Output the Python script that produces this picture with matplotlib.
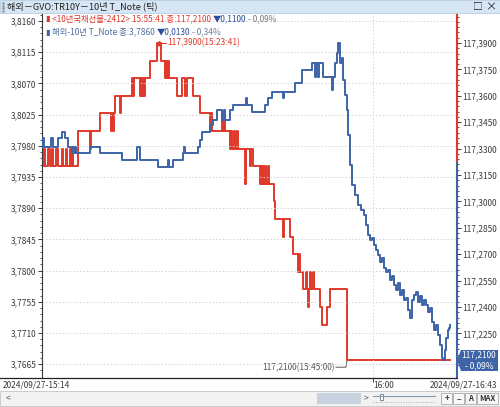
import numpy as np
import matplotlib.pyplot as plt
from matplotlib.patches import Rectangle, Polygon
from matplotlib.lines import Line2D

plt.rcParams['font.family'] = ['Noto Sans CJK KR', 'DejaVu Sans']

# tick index (x) and values
# red: 10년 국채선물 (right axis), drawn as steps
red_idx = [0, 2, 3, 6, 8, 10, 11, 14, 16, 20, 21, 24, 25, 28, 29, 30, 31, 36, 48, 49,
           58, 69, 70, 71, 72, 73, 78, 79, 90, 91, 92, 98, 99, 100, 101, 102, 103, 108,
           115, 119, 123, 124, 125, 126, 127, 135, 140, 143, 145, 151, 158, 168, 169,
           170, 180, 181, 182, 183, 188, 189, 190, 192, 193, 195, 196, 198, 203, 204,
           208, 209, 211, 218, 219, 220, 221, 222, 223, 224, 226, 227, 230, 232, 233,
           241, 242, 248, 251, 256, 257, 258, 261, 264, 265, 266, 267, 268, 269, 271,
           272, 278, 280, 285, 288, 305, 408]
red_val = [117.32, 117.33, 117.32, 117.33, 117.32, 117.33, 117.32, 117.33, 117.32,
           117.33, 117.32, 117.33, 117.32, 117.33, 117.32, 117.33, 117.32, 117.34,
           117.33, 117.34, 117.35, 117.34, 117.35, 117.34, 117.35, 117.36, 117.35,
           117.36, 117.37, 117.36, 117.37, 117.36, 117.37, 117.36, 117.37, 117.36,
           117.37, 117.38, 117.39, 117.38, 117.37, 117.38, 117.37, 117.38, 117.37,
           117.36, 117.37, 117.36, 117.37, 117.36, 117.35, 117.34, 117.35, 117.34,
           117.35, 117.34, 117.35, 117.34, 117.33, 117.34, 117.33, 117.34, 117.33,
           117.34, 117.33, 117.33, 117.31, 117.33, 117.32, 117.33, 117.32, 117.31,
           117.32, 117.31, 117.32, 117.31, 117.32, 117.31, 117.32, 117.31, 117.31,
           117.30, 117.29, 117.28, 117.29, 117.28, 117.27, 117.26, 117.27, 117.26,
           117.25, 117.26, 117.25, 117.24, 117.25, 117.26, 117.25, 117.26, 117.25,
           117.24, 117.23, 117.24, 117.25, 117.21, 117.21]

# blue: 해외 10년 T_Note yield (left axis)
blue_idx = [0, 1, 2, 9, 11, 16, 20, 23, 26, 30, 31, 32, 33, 34, 48, 58, 80, 95, 98,
            116, 126, 127, 131, 141, 142, 143, 156, 158, 160, 168, 171, 175, 180, 182,
            183, 188, 191, 204, 205, 210, 223, 226, 230, 241, 242, 253, 260, 270, 273,
            274, 276, 277, 281, 290, 291, 293, 295, 296, 298, 300, 301, 303, 305, 306,
            308, 310, 313, 316, 319, 322, 324, 326, 328, 330, 332, 334, 336, 338, 340,
            342, 344, 346, 348, 350, 352, 354, 356, 358, 360, 362, 364, 366, 368, 370,
            372, 374, 376, 378, 380, 382, 384, 386, 388, 390, 392, 394, 396, 398, 400,
            401, 403, 404, 406, 407, 408]
blue_val = [3.7978, 3.7991, 3.7978, 3.7991, 3.7978, 3.7991, 3.8000, 3.7991, 3.7978,
            3.7970, 3.7978, 3.7970, 3.7978, 3.7970, 3.7978, 3.7970, 3.7960, 3.7978,
            3.7960, 3.7949, 3.7960, 3.7949, 3.7960, 3.7970, 3.7978, 3.7970, 3.7978,
            3.7988, 3.8000, 3.8010, 3.8017, 3.8032, 3.8017, 3.8032, 3.8017, 3.8032,
            3.8039, 3.8049, 3.8039, 3.8029, 3.8039, 3.8049, 3.8058, 3.8049, 3.8058,
            3.8071, 3.8089, 3.8099, 3.8079, 3.8099, 3.8079, 3.8099, 3.8079, 3.8060,
            3.8079, 3.8099, 3.8114, 3.8128, 3.8099, 3.8107, 3.8075, 3.8053, 3.8032,
            3.7996, 3.7952, 3.7923, 3.7909, 3.7895, 3.7887, 3.7880, 3.7866, 3.7851,
            3.7844, 3.7847, 3.7837, 3.7830, 3.7822, 3.7812, 3.7818, 3.7804, 3.7798,
            3.7801, 3.7786, 3.7792, 3.7779, 3.7772, 3.7782, 3.7765, 3.7772, 3.7758,
            3.7760, 3.7743, 3.7732, 3.7758, 3.7765, 3.7769, 3.7755, 3.7763, 3.7750,
            3.7758, 3.7750, 3.7740, 3.7746, 3.7726, 3.7714, 3.7722, 3.7707, 3.7693,
            3.7674, 3.7671, 3.7685, 3.7703, 3.7714, 3.7717, 3.7722]

left_ticks = [3.7665, 3.7710, 3.7755, 3.7800, 3.7845, 3.7890, 3.7935, 3.7980,
              3.8025, 3.8070, 3.8115, 3.8160]
right_ticks = [117.2250, 117.2400, 117.2550, 117.2700, 117.2850, 117.3000,
               117.3150, 117.3300, 117.3450, 117.3600, 117.3750, 117.3900]

RED = '#e0392c'
BLUE = '#3d64a8'
TXT = '#3a3a3a'
W, H = 500, 407


def fx(px):
    return px / W


def fy(py):
    return 1 - py / H


def kfmt(v):
    return f"{v:.4f}".replace('.', ',')


fig = plt.figure(figsize=(5, 4.07), dpi=100)
fig.patch.set_facecolor('white')
renderer = fig.canvas.get_renderer()


def text_row(x0, y0, pieces, size):
    # place coloured pieces one after another on a line
    x = x0
    for s, c in pieces:
        t = fig.text(fx(x), fy(y0), s, color=c, fontsize=size, va='center')
        x += t.get_window_extent(renderer).width + 2


ax = fig.add_axes([fx(42), fy(378), fx(457) - fx(42), fy(13) - fy(378)])
ax2 = ax.twinx()

ax.set_xlim(0, 415)
ax.set_ylim(3.76451, 3.81715)
ax2.set_ylim(117.19966, 117.40705)

ax.plot(blue_idx, blue_val, drawstyle='steps-post', color=BLUE, lw=1.4, zorder=3)
ax2.plot(red_idx, red_val, drawstyle='steps-post', color=RED, lw=1.4, zorder=3)
ax.set_zorder(ax2.get_zorder() + 1)
ax.patch.set_visible(False)

# grid
for t in left_ticks:
    ax.axhline(t, color='#d4d4d4', lw=0.7, ls=(0, (1.5, 2)), zorder=0)
ax.axvline(331, color='#d4d4d4', lw=0.7, ls=(0, (1.5, 2)), zorder=0)

# left axis
ax.set_yticks(left_ticks)
ax.set_yticklabels([kfmt(t) for t in left_ticks])
ax.set_yticks([3.7665 + 0.0009 * i for i in range(-1, 57) if 3.7646 < 3.7665 + 0.0009 * i < 3.8171], minor=True)
ax.tick_params(axis='y', which='major', length=3, width=0.7, color=TXT, labelsize=6, labelcolor=TXT, pad=1)
ax.tick_params(axis='y', which='minor', length=1.5, width=0.6, color=TXT)
ax.set_xticks([331])
ax.set_xticklabels([])
ax.tick_params(axis='x', length=3, width=0.7, color=TXT)

# right axis
ax2.set_yticks(right_ticks)
ax2.set_yticklabels([kfmt(t) for t in right_ticks])
ax2.set_yticks([117.207 + 0.003 * i for i in range(0, 67)], minor=True)
ax2.tick_params(axis='y', which='major', length=3, width=0.7, color=TXT, labelsize=6, labelcolor=TXT, pad=1)
ax2.tick_params(axis='y', which='minor', length=1.5, width=0.6, color=TXT)

for a in (ax, ax2):
    for s in ('top', 'right', 'bottom'):
        a.spines[s].set_visible(False)
    a.spines['left'].set_color(TXT)
    a.spines['left'].set_linewidth(0.8)
ax2.spines['left'].set_visible(False)

# two-colour right edge
split = (378 - 163) / (378 - 13)
ax.plot([1, 1], [split, 1], transform=ax.transAxes, color=RED, lw=1.5, clip_on=False)
ax.plot([1, 1], [0, split], transform=ax.transAxes, color=BLUE, lw=1.5, clip_on=False)

# annotations
ax2.plot([117, 124], [117.39, 117.39], color=RED, lw=0.8)
ax2.plot([117], [117.39], marker='^', ms=3, color=RED)
ax2.text(125, 117.39, '117,3900(15:23:41)', color=RED, fontsize=6, va='center')
ax2.plot([294, 304, 305], [117.2058, 117.2058, 117.2095], color='#555555', lw=0.7)
ax2.text(293, 117.2058, '117,2100(15:45:00)', color='#555555', fontsize=6, va='center', ha='right')

# legend text lines
text_row(45, 19, [('▮', RED), ('<10년국채선물-2412> 15:55:41 종:117,2100', RED),
                  ('▼0,1100', '#2b4f9a'), ('- 0,09%', '#777777')], 6)
text_row(45, 32, [('▮', BLUE), ('해외-10년 T_Note 종:3,7860', '#4f6f9f'),
                  ('▼0,0130', '#2b4f9a'), ('- 0,34%', '#6f7f9a')], 6)

# title bar
fig.patches.append(Rectangle((0, fy(13)), 1, 13 / H, transform=fig.transFigure,
                             facecolor='#d6e6f4', edgecolor='#b8cde0', lw=0.6))
fig.text(fx(7), fy(6.5), '해외－GVO:TR10Y－10년 T_Note (틱)', fontsize=6.6, color='#222222', va='center')
fig.add_artist(Line2D([fx(2.5)] * 4, [fy(3), fy(5.5), fy(8), fy(10.5)], ls='none',
                      marker='s', ms=0.8, color='#8899aa'))
fig.text(fx(478), fy(6.5), '□', fontsize=7, color='#222222', va='center', ha='center')
fig.text(fx(491), fy(6.5), '×', fontsize=8, color='#222222', va='center', ha='center')

# bottom axis line and labels
fig.add_artist(Line2D([0, fx(457)], [fy(378), fy(378)], color='#222222', lw=0.9))
fig.text(fx(3), fy(385), '2024/09/27-15:14', fontsize=6, color=TXT, va='center')
fig.text(fx(373), fy(385), '16:00', fontsize=6, color=TXT, va='center')
fig.text(fx(497), fy(385), '2024/09/27-16:43', fontsize=6, color=TXT, va='center', ha='right')

# current value box on the right
box = Polygon([(fx(457), fy(360)), (fx(461), fy(350)), (fx(498), fy(350)),
               (fx(498), fy(371)), (fx(461), fy(371))], closed=True,
              transform=fig.transFigure, facecolor=BLUE, edgecolor='none')
fig.patches.append(box)
fig.text(fx(479), fy(355), '117,2100', fontsize=6, color='white', va='center', ha='center')
fig.text(fx(479), fy(366), '- 0,09%', fontsize=6, color='white', va='center', ha='center')

# scroll bar strip
fig.patches.append(Rectangle((0, fy(406)), 1, 15 / H, transform=fig.transFigure,
                             facecolor='#f2f2f2', edgecolor='#c4c4c4', lw=0.6))
fig.patches.append(Rectangle((fx(317), fy(404)), 44 / W, 11 / H, transform=fig.transFigure,
                             facecolor='#c8d2de', edgecolor='none'))
fig.text(fx(6), fy(398.5), '<', fontsize=6, color='#555555', va='center')
fig.text(fx(364), fy(398.5), '>', fontsize=6, color='#555555', va='center')
fig.add_artist(Line2D([fx(373), fx(435)], [fy(396), fy(396)], color='#8899aa', lw=0.8))
fig.add_artist(Line2D([fx(373), fx(435)], [fy(402), fy(402)], color='#8899aa', lw=0.6, ls=(0, (1, 2))))
fig.patches.append(Rectangle((fx(380), fy(400)), 3 / W, 6 / H, transform=fig.transFigure,
                             facecolor='white', edgecolor='#667788', lw=0.6))
for x0, w, lab in [(441, 11, '+'), (453, 11, '−'), (465, 11, 'A'), (477, 21, 'MAX')]:
    fig.patches.append(Rectangle((fx(x0), fy(404)), w / W, 11 / H, transform=fig.transFigure,
                                 facecolor='#f8f8f8', edgecolor='#aaaaaa', lw=0.6))
    fig.text(fx(x0 + w / 2), fy(398.5), lab, fontsize=5.5, color='#333333', va='center',
             ha='center', fontweight='bold')

fig.savefig('out.png', dpi=100)
